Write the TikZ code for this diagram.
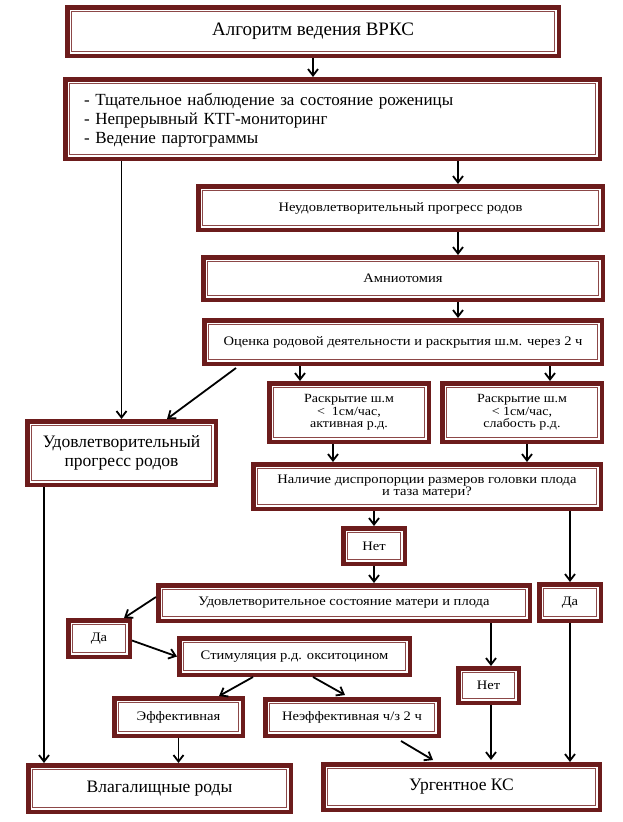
\documentclass[tikz,border=0pt]{standalone}
\usepackage{fontspec}
\setmainfont{Liberation Serif}
\newfontfamily\smf[FakeStretch=1.12]{Liberation Serif}
\usetikzlibrary{arrows.meta,calc}
\definecolor{bdark}{RGB}{108,28,28}
\definecolor{binner}{RGB}{140,72,72}
\tikzset{
  bxstyle/.style={draw=bdark, line width=4.5pt, fill=white, inner sep=0pt, align=center,
    path picture={\draw[binner, line width=1.2pt]
      ([shift={(4.1pt,4.1pt)}]path picture bounding box.south west) rectangle
      ([shift={(-4.1pt,-4.1pt)}]path picture bounding box.north east);}},
  bigtxt/.style={font=\fontsize{17.5}{19}\selectfont},
  titletxt/.style={font=\fontsize{19}{21}\selectfont},
  smalltxt/.style={font=\smf\fontsize{13}{12}\selectfont},
  tighttxt/.style={font=\smf\fontsize{12.5}{12.5}\selectfont},
  conn/.style={line width=1.8pt, draw=black},
  arr/.style={conn, -{Straight Barb[length=6.5pt,width=10pt]}},
}
\newcommand\bx[7][]{%
  \node[bxstyle,#1,minimum width={(#5-#3-4.5)*1pt},minimum height={(#6-#4-4.5)*1pt}]
    (#2) at ({(#3+#5)/2},{(#4+#6)/2}) {#7};}
\begin{document}
\begin{tikzpicture}[x=1pt,y=-1pt]
\fill[white] (0,0) rectangle (622,822);
\useasboundingbox (0,0) rectangle (622,822);
% boxes
\bx[titletxt]{title}{65}{5}{561}{58}{Алгоритм ведения ВРКС}
\node[bxstyle, font=\fontsize{17}{19}\selectfont, align=left, text width=497pt, inner xsep=18.75pt,
  inner ysep=0pt, minimum height=79.5pt] (list) at (332.5,119)
  {\rule{0pt}{14pt}- Тщательное наблюдение за состояние роженицы\\- Непрерывный КТГ-мониторинг\\- Ведение партограммы};
\bx[smalltxt]{neud}{196}{184}{605}{232}{Неудовлетворительный прогресс родов}
\bx[smalltxt]{amnio}{201}{255}{605}{302}{Амниотомия}
\bx[smalltxt]{ocenka}{202}{318}{604}{366}{Оценка родовой деятельности и раскрытия ш.м. через 2 ч}
\bx[tighttxt]{boxA}{267}{381}{431}{444}{Раскрытие ш.м\\<\ \ 1см/час,\\активная р.д.}
\bx[tighttxt]{boxB}{440}{381}{604}{444}{Раскрытие ш.м\\< 1см/час,\\слабость р.д.}
\bx[bigtxt]{udprog}{25}{419}{218}{487}{Удовлетворительный\\прогресс родов}
\bx[smalltxt]{nalichie}{251}{462}{603}{511}{Наличие диспропорции размеров головки плода\\и таза матери?}
\bx[smalltxt]{net1}{341}{526}{407}{566}{Нет}
\bx[smalltxt]{udsost}{156}{583}{532}{623}{Удовлетворительное состояние матери и плода}
\bx[smalltxt]{da2}{537}{582}{603}{623}{Да}
\bx[smalltxt]{da1}{66}{618}{132}{659}{Да}
\bx[smalltxt]{stim}{177}{636}{412}{677}{Стимуляция р.д. окситоцином}
\bx[smalltxt]{net2}{456}{666}{521}{705}{Нет}
\bx[smalltxt]{eff}{112}{696}{245}{738}{Эффективная}
\bx[smalltxt]{neeff}{263}{697}{441}{738}{Неэффективная ч/з 2 ч}
\bx[bigtxt]{vlag}{26}{763}{293}{814}{Влагалищные роды}
\bx[bigtxt]{ks}{321}{762}{602}{812}{Ургентное КС}
% column helpers
\coordinate (cR) at (458,0);
\coordinate (cA) at (300,0);
\coordinate (cB) at (550,0);
\coordinate (cD1) at (236,0);
\coordinate (cD2) at (167,0);
\coordinate (cE) at (333,0);
\coordinate (cF) at (527,0);
\coordinate (cG) at (44,0);
\coordinate (cH) at (124,0);
\coordinate (cI) at (253,0);
\coordinate (cJ) at (219,0);
\coordinate (cK) at (313,0);
\coordinate (cL) at (345,0);
\coordinate (cM) at (491,0);
\coordinate (cN) at (401,0);
\coordinate (cO) at (433,0);
% connectors
\draw[arr] (title.south) -- (title.south |- list.north);
\draw[arr] (list.south -| cR) -- (neud.north -| cR);
\draw[arr] (neud.south -| cR) -- (amnio.north -| cR);
\draw[arr] (amnio.south -| cR) -- (ocenka.north -| cR);
\draw[arr] (udprog.north |- list.south) -- (udprog.north);
\draw[arr] (ocenka.south -| cA) -- (boxA.north -| cA);
\draw[arr] (ocenka.south -| cB) -- (boxB.north -| cB);
\draw[arr] ($(ocenka.south -| cD1)+(0,2)$) -- (udprog.north -| cD2);
\draw[arr] (boxA.south -| cE) -- (nalichie.north -| cE);
\draw[arr] (boxB.south -| cF) -- (nalichie.north -| cF);
\draw[arr] (net1.north |- nalichie.south) -- (net1.north);
\draw[arr] (net1.south) -- (net1.south |- udsost.north);
\draw[arr] (da2.north |- nalichie.south) -- (da2.north);
\draw[arr] (udprog.south -| cG) -- (vlag.north -| cG);
\draw[arr] ($(udsost.west)+(0,-6)$) -- (da1.north -| cH);
\draw[arr] ($(da1.east)+(0,2)$) -- (stim.west);
\draw[arr] (stim.south -| cI) -- (eff.north -| cJ);
\draw[arr] (stim.south -| cK) -- ($(neeff.north -| cL)+(0,-2)$);
\draw[arr] (udsost.south -| cM) -- (net2.north -| cM);
\draw[arr] (net2.south -| cM) -- ($(ks.north -| cM)+(0,-2)$);
\draw[arr] (da2.south) -- (da2.south |- ks.north);
\draw[arr] ($(neeff.south -| cN)+(0,3)$) -- ($(ks.north -| cO)+(0,-2)$);
\draw[arr] (eff.south) -- (eff.south |- vlag.north);
\end{tikzpicture}
\end{document}
